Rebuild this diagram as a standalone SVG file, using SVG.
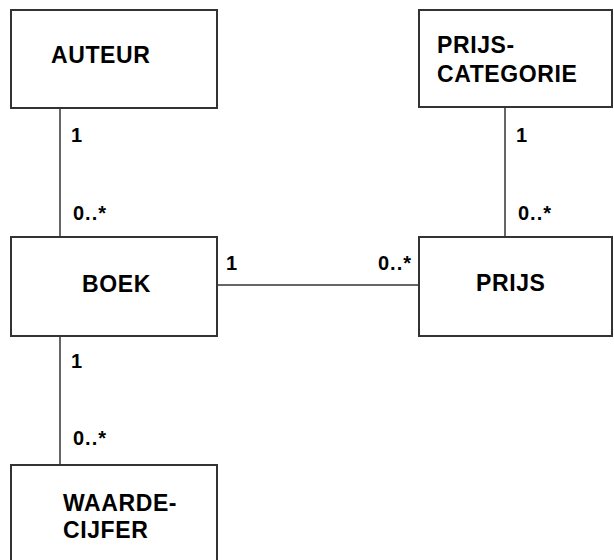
<svg xmlns="http://www.w3.org/2000/svg" width="614" height="560" viewBox="0 0 614 560">
<style>
.box{fill:#ffffff;stroke:#333333;stroke-width:2}
.ln{stroke:#333333;stroke-width:1.5;fill:none}
.t{font-family:"Liberation Sans",Arial,sans-serif;font-weight:bold;font-size:23px;fill:#000;letter-spacing:0.6px}
.m{font-family:"Liberation Sans",Arial,sans-serif;font-weight:bold;font-size:20px;fill:#000;letter-spacing:1px}
</style>
<rect width="614" height="560" fill="#ffffff"/>
<g id="connectors">
<line class="ln" x1="60" y1="108" x2="60" y2="237"/>
<line class="ln" x1="505" y1="107" x2="505" y2="237"/>
<line class="ln" x1="217" y1="285" x2="419" y2="285"/>
<line class="ln" x1="60" y1="336" x2="60" y2="465"/>
<text class="m" x="71" y="142">1</text>
<text class="m" x="73" y="220">0..*</text>
<text class="m" x="516" y="142">1</text>
<text class="m" x="518" y="220">0..*</text>
<text class="m" x="71" y="368">1</text>
<text class="m" x="73" y="445">0..*</text>
<text class="m" x="226" y="270">1</text>
<text class="m" x="378" y="270">0..*</text>
</g>
<g id="auteur">
<rect class="box" x="11" y="10" width="206" height="98"/>
<text class="t" x="51" y="63">AUTEUR</text>
</g>
<g id="prijscategorie">
<rect class="box" x="419" y="10" width="193" height="97"/>
<text class="t" x="437" y="53">PRIJS-</text>
<text class="t" x="437" y="82">CATEGORIE</text>
</g>
<g id="boek">
<rect class="box" x="11" y="237" width="206" height="99"/>
<text class="t" x="82" y="292">BOEK</text>
</g>
<g id="prijs">
<rect class="box" x="419" y="237" width="193" height="99"/>
<text class="t" x="476" y="291">PRIJS</text>
</g>
<g id="waardecijfer">
<rect class="box" x="11" y="465" width="206" height="100"/>
<text class="t" x="63" y="511">WAARDE-</text>
<text class="t" x="63" y="538">CIJFER</text>
</g>
</svg>
